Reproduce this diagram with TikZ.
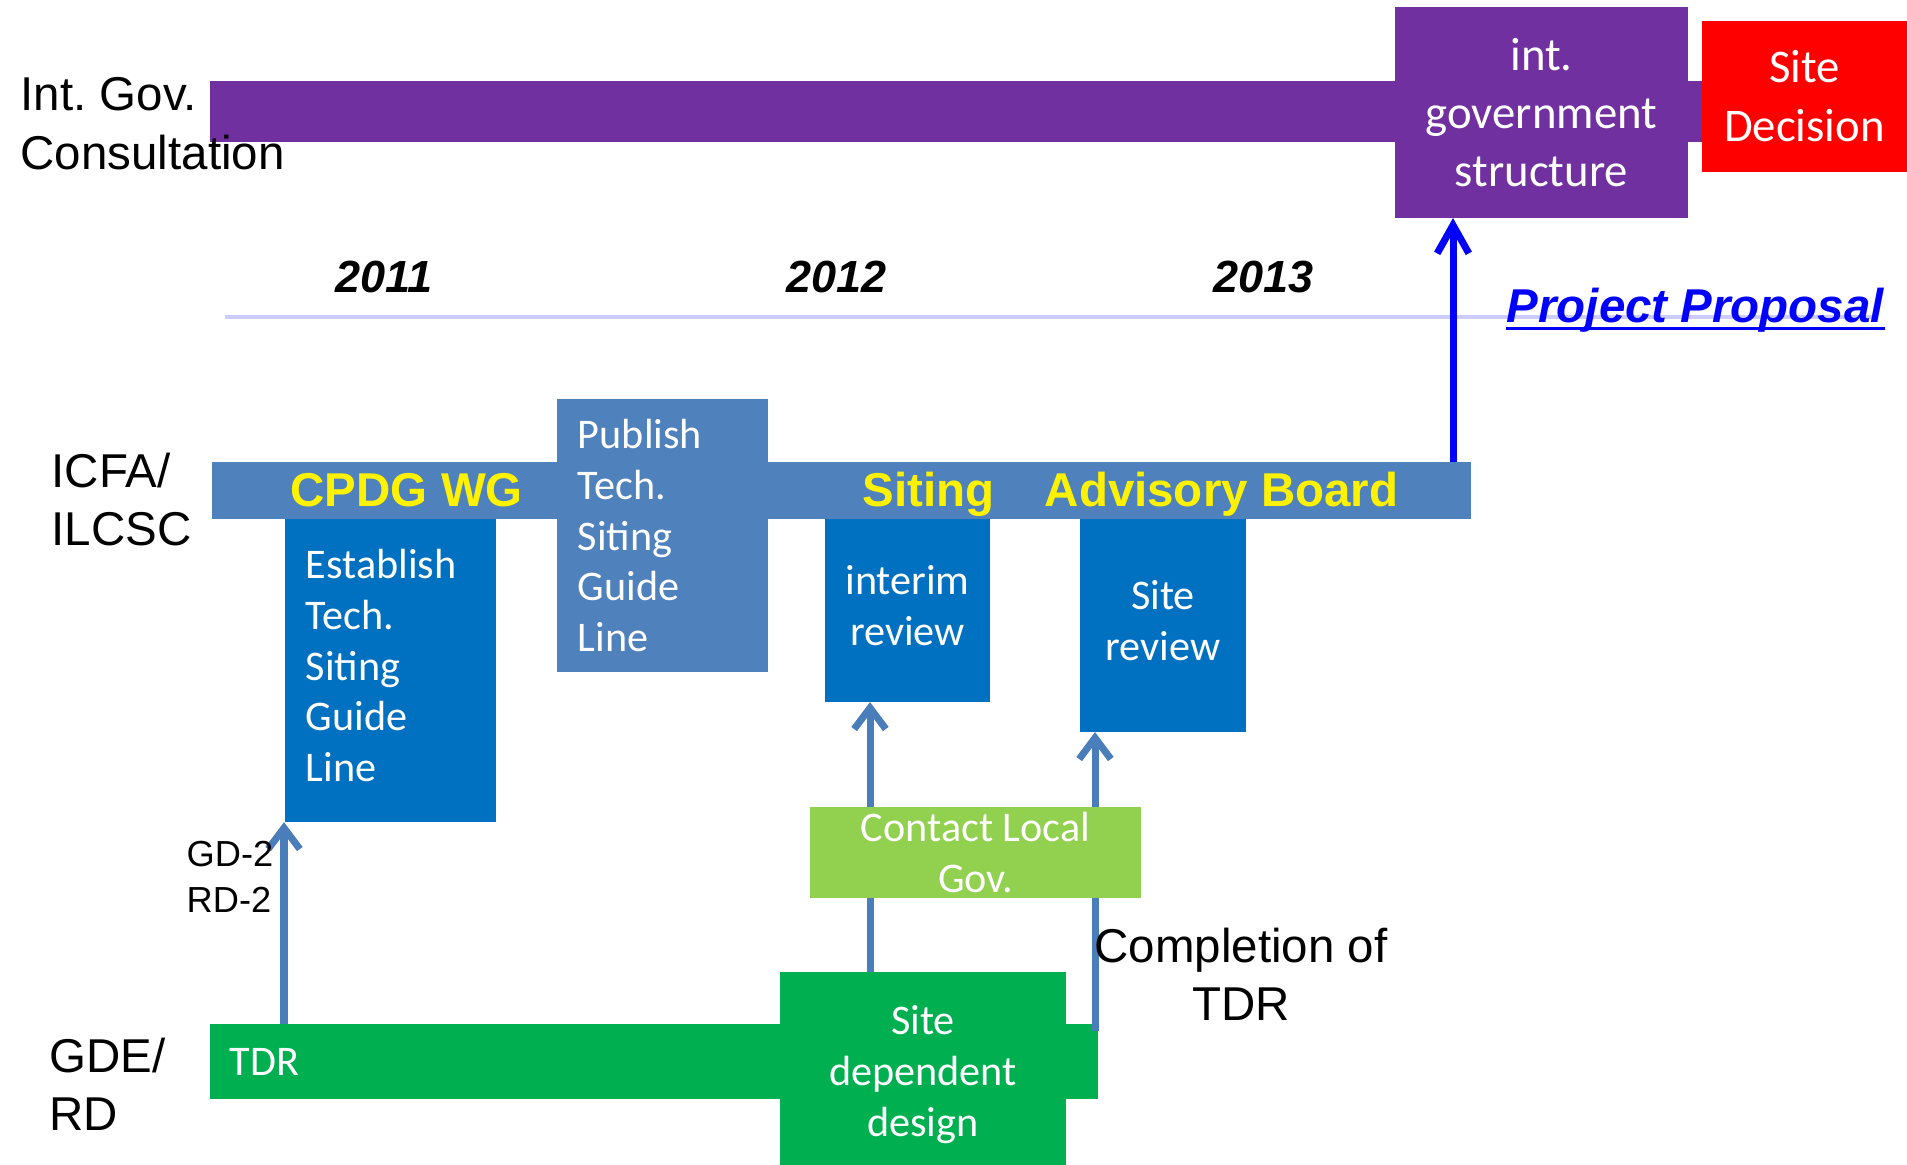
\documentclass[tikz,border=0pt]{standalone}
\usepackage{fontspec}
\setmainfont{Liberation Sans}
\newfontfamily\calibri{Carlito}
\usetikzlibrary{arrows.meta}
\definecolor{igcpurple}{HTML}{7030A0}
\definecolor{icfablue}{HTML}{4F81BD}
\definecolor{boxblue}{HTML}{0070C0}
\definecolor{gdegreen}{HTML}{00B050}
\definecolor{govgreen}{HTML}{92D050}
\definecolor{arrowblue}{HTML}{4A7EBB}
\definecolor{yearline}{HTML}{CCCCFF}
\begin{document}
\begin{tikzpicture}[x=0.01cm, y=-0.01cm, line join=round,
	lbl/.style={inner sep=0pt, anchor=north west, align=left, font=\fontsize{13.5}{16.6}\selectfont},
	yr/.style={inner sep=0pt, anchor=base west, font=\fontsize{12.8}{15}\selectfont\bfseries\itshape},
	wg/.style={inner sep=0pt, anchor=base west, text=yellow, font=\fontsize{13.5}{16}\selectfont\bfseries},
	bar/.style={inner sep=0pt, outer sep=0pt},
	tbox/.style={inner sep=0pt, outer sep=0pt, text=white, align=center, font=\calibri\fontsize{12}{14.5}\selectfont},
	bigbox/.style={tbox, font=\calibri\fontsize{13.3}{16.4}\selectfont},
	up/.style={-{Straight Barb[length=6pt,width=9pt]}, line width=2pt, arrowblue},
	]
	\useasboundingbox (0,0) rectangle (1907,1164);
	\path
	(284,1024) coordinate (a1)
	(870,972) coordinate (a2)
	(1095,1031) coordinate (a3)
	(1453,462) coordinate (a4)
	;
	\node[bar, fill=igcpurple, minimum width=14.92cm, minimum height=0.61cm] (igcbar) at (956,111.5) {};
	\node[bigbox, fill=igcpurple, minimum width=2.93cm, minimum height=2.11cm] (igbox) at (1541.5,112.5) {int.\\government\\structure};
	\node[bigbox, fill=red, minimum width=2.05cm, minimum height=1.51cm, font=\calibri\fontsize{13.3}{16.8}\selectfont] (decision) at (1804.5,96.5) {Site\\Decision};
	\node[lbl] (igc) at (20,77) {Int.\ Gov.\\Consultation};
	\draw[yearline, line width=1.4pt] (225,317) -- (1875,317);
	\foreach \y/\x in {2011/335,2012/786,2013/1213}\node[yr] (y\y) at (\x,293) {\y};
	\node[yr, text=blue, font=\fontsize{13.5}{15}\selectfont\bfseries\itshape] (pp) at (1506,323) {Project Proposal};
	\draw[blue, line width=0.85pt] ([yshift=-1.7pt]pp.base west) -- ([yshift=-1.7pt]pp.base east);
	\node[tbox, fill=boxblue, minimum width=2.11cm, minimum height=3.13cm, text width=1.69cm, align=left] (estab) at (390.5,665.5) {Establish\\Tech.\\Siting\\Guide\\Line};
	\node[tbox, fill=boxblue, minimum width=1.65cm, minimum height=1.93cm] (interim) at (907.5,605.5) {interim\\review};
	\node[tbox, fill=boxblue, minimum width=1.66cm, minimum height=2.23cm] (review) at (1163,620.5) {Site\\review};
	\node[bar, fill=icfablue, minimum width=12.59cm, minimum height=0.57cm] (icfa) at (841.5,490.5) {};
	\node[lbl] (icfalbl) at (51,452) {ICFA/\\ILCSC};
	\node[tbox, fill=icfablue, minimum width=2.11cm, minimum height=2.73cm, text width=1.69cm, align=left] (publish) at (662.5,535.5) {Publish\\Tech.\\Siting\\Guide\\Line};
	\node[wg] (cpdg) at (290,506) {CPDG WG};
	\node[wg] (siting) at (862,506) {Siting};
	\node[wg] (board) at (1044,506) {Advisory Board};
	\node[tbox, fill=gdegreen, minimum width=8.88cm, minimum height=0.75cm, text width=8.48cm, align=left] (tdr) at (654,1061.5) {TDR};
	\node[tbox, fill=gdegreen, minimum width=2.86cm, minimum height=2.06cm] (sdd) at (923,1075) {Site\\dependent\\design};
	\node[lbl] (gde) at (49,1037) {GDE/\\RD};
	\draw[up] (a1) -- (a1 |- estab.south);
	\draw[up] (a2) -- (a2 |- interim.south);
	\draw[up] (a3) -- (a3 |- review.south);
	\node[tbox, fill=govgreen, minimum width=3.31cm, minimum height=0.91cm] (contact) at (975.5,852.5) {Contact Local\\Gov.};
	\node[lbl, font=\fontsize{10.3}{13.1}\selectfont] (gd) at (186,840) {GD-2\\RD-2};
	\node[lbl, anchor=north, align=center] (completion) at (1241,927) {Completion of\\TDR};
	\draw[up, blue, -{Straight Barb[length=8pt,width=9pt]}] (a4) -- (a4 |- igbox.south);
\end{tikzpicture}
\end{document}
